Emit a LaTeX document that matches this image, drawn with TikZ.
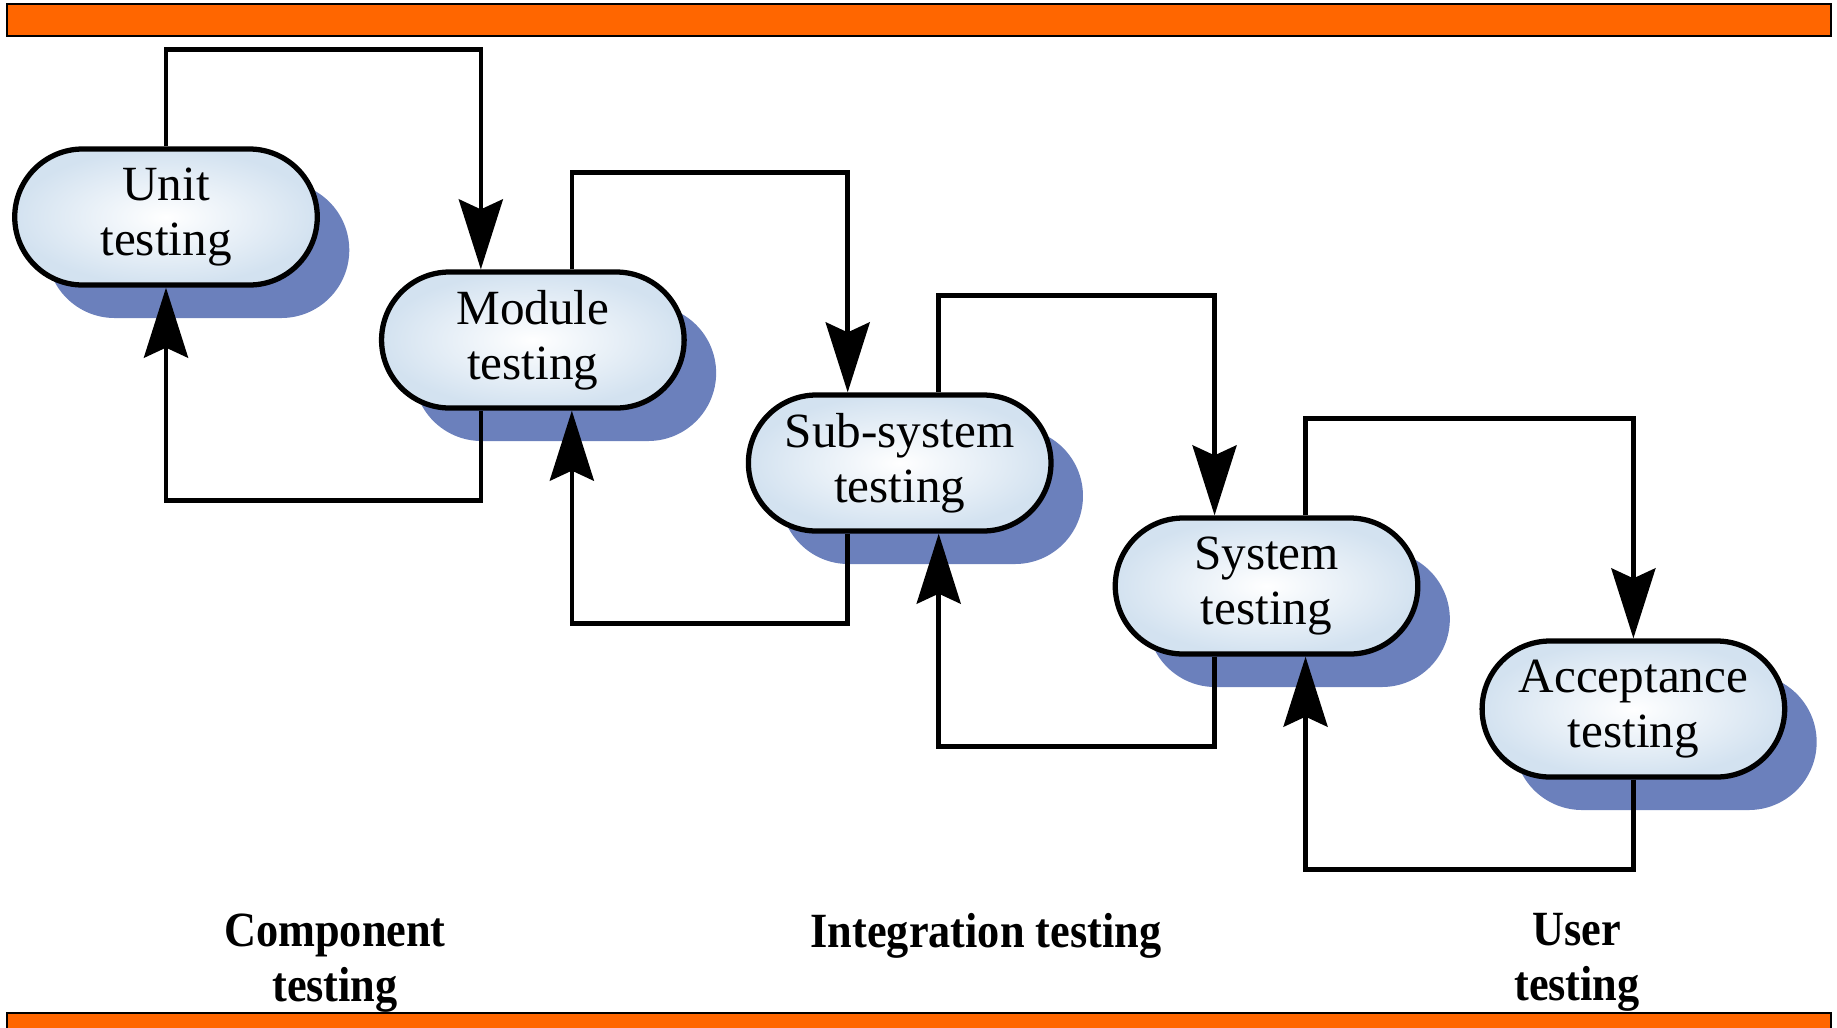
\documentclass[tikz,border=0pt]{standalone}
\usepackage{fontspec}
\setmainfont{Liberation Serif}
\newfontfamily\labelfont[FakeStretch=0.9]{Liberation Serif}
\usetikzlibrary{positioning, shapes.misc, arrows.meta, shadows}

\definecolor{barorange}{HTML}{FF6600}
\definecolor{shadowblue}{HTML}{6B80BC}
\definecolor{stageblue}{HTML}{D3E2F0}

\begin{document}
\begin{tikzpicture}[
    stage/.style={rounded rectangle, draw=black, line width=1.5pt, minimum width=3.26cm, minimum height=1.36cm, align=center, inner color=white, outer color=stageblue, drop shadow={shadow xshift=0.32cm, shadow yshift=-0.33cm, fill=shadowblue, opacity=1}, font=\fontsize{14}{15.5}\selectfont},
    flow/.style={-{Stealth[length=7mm, width=4.4mm, inset=1mm]}, line width=1.3pt},
    group/.style={align=center, anchor=north, inner sep=0pt, font=\labelfont\bfseries\fontsize{14}{15.6}\selectfont},
    bar/.style={draw=black, line width=0.8pt, fill=barorange}
]
\useasboundingbox (0,0) rectangle (18.37,-10.27);

% Orange bars
\draw[bar] (0.07,-0.04) rectangle (18.31,-0.36);
\draw[bar] (0.07,-10.13) rectangle (18.31,-10.45);

% Testing stages
\node[stage] (unit) at (1.66,-2.17) {Unit\\testing};
\node[stage, right=0.59cm of unit, yshift=-1.23cm] (module) {Module\\testing};
\node[stage, right=0.59cm of module, yshift=-1.23cm] (subsys) {Sub-system\\testing};
\node[stage, right=0.59cm of subsys, yshift=-1.23cm] (system) {System\\testing};
\node[stage, right=0.59cm of system, yshift=-1.23cm] (accept) {Acceptance\\testing};

% Forward steps
\draw[flow] (unit.north) -- ++(0,0.97) -| ([xshift=-5.2mm]module.north);
\draw[flow] ([xshift=3.9mm]module.north) -- ++(0,0.97) -| ([xshift=-5.2mm]subsys.north);
\draw[flow] ([xshift=3.9mm]subsys.north) -- ++(0,0.97) -| ([xshift=-5.2mm]system.north);
\draw[flow] ([xshift=3.9mm]system.north) -- ++(0,0.97) -| (accept.north);

% Feedback
\draw[flow] ([xshift=-5.2mm]module.south) -- ++(0,-0.9) -| (unit.south);
\draw[flow] ([xshift=-5.2mm]subsys.south) -- ++(0,-0.9) -| ([xshift=3.9mm]module.south);
\draw[flow] ([xshift=-5.2mm]system.south) -- ++(0,-0.9) -| ([xshift=3.9mm]subsys.south);
\draw[flow] (accept.south) -- ++(0,-0.9) -| ([xshift=3.9mm]system.south);

% Phases
\node[group] (component) at (3.35,-9.13) {Component\\testing};
\node[group] (integration) at (9.86,-9.13) {Integration testing};
\node[group] (user) at (15.77,-9.13) {User\\testing};

\end{tikzpicture}
\end{document}
